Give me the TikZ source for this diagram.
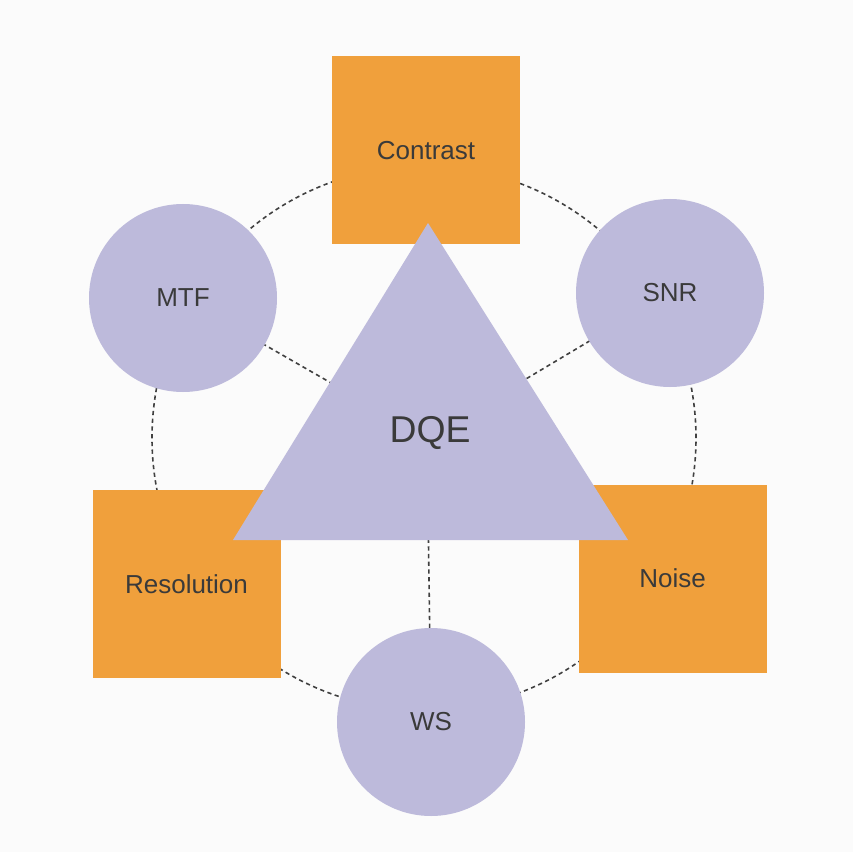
\documentclass[tikz,border=0pt]{standalone}
\usepackage{fontspec}
\setmainfont{Liberation Sans}
\definecolor{boxorange}{HTML}{F0A03C}
\definecolor{lav}{HTML}{BDBADB}
\definecolor{txt}{HTML}{3A3A3A}
\definecolor{dash}{HTML}{404040}
\definecolor{paper}{HTML}{FBFBFB}
\pgfdeclarelayer{paperlayer}
\pgfdeclarelayer{linelayer}
\pgfsetlayers{paperlayer,linelayer,main}
\begin{document}
\begin{tikzpicture}[x=0.75pt,y=-0.75pt,
  circnode/.style={circle,fill=lav,draw=none,minimum size=141pt,inner sep=0pt,
    font=\fontsize{19.5}{19.5}\selectfont,text=txt},
  boxnode/.style={rectangle,fill=boxorange,draw=none,minimum width=141pt,minimum height=141pt,inner sep=0pt,
    font=\fontsize{19.5}{19.5}\selectfont,text=txt},
  dashline/.style={draw=dash,line width=1.2pt,dash pattern=on 3.2pt off 2.6pt}]
\begin{pgfonlayer}{paperlayer}
\fill[paper] (0,0) rectangle (853,852);
\end{pgfonlayer}
\useasboundingbox (0,0) rectangle (853,852);
\coordinate (c) at (427,438);
\coordinate (ringc) at (424,438);
% nodes
\node[circnode] (mtf) at (183,298) {MTF};
\node[circnode] (snr) at (670,293) {SNR};
\node[circnode] (ws) at (431,722) {WS};
\node[boxnode] (contrast) at (426,150.5) {Contrast};
\node[boxnode] (resolution) at (186.5,584) {Resolution};
\node[boxnode] (noise) at (672.5,578.5) {Noise};
% dashed ring and spokes, behind the shapes
\begin{pgfonlayer}{linelayer}
\draw[dashline] (ringc) circle[radius=204pt];
\draw[dashline] (c) -- (mtf.center);
\draw[dashline] (c) -- (snr.center);
\draw[dashline] (c) -- (ws.center);
\end{pgfonlayer}
% triangle
\coordinate (tA) at (428,223);
\coordinate (tB) at (233,540);
\coordinate (tC) at (628,540);
\fill[lav] (tA) -- (tB) -- (tC) -- cycle;
\node[font=\fontsize{28}{28}\selectfont,text=txt,inner sep=0pt] (dqe) at (430,433) {DQE};
\end{tikzpicture}
\end{document}
